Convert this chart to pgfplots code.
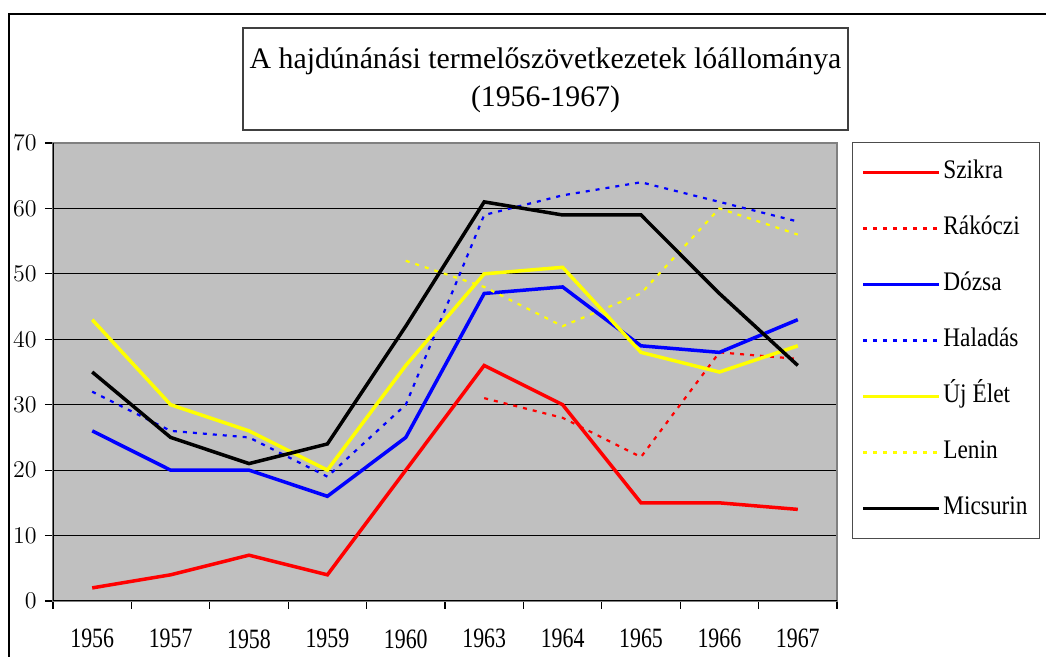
\documentclass[border=0pt]{standalone}
\usepackage{fontspec}
\setmainfont{Liberation Serif}
\newfontfamily\narrowfont{Liberation Serif}[FakeStretch=0.78]
\newfontfamily\legendfont{Liberation Serif}[FakeStretch=0.87]
\usepackage{pgfplots}
\pgfplotsset{compat=1.18}
\definecolor{plotgray}{RGB}{192,192,192}
\definecolor{framegray}{RGB}{128,128,128}
\definecolor{xred}{RGB}{255,0,0}
\definecolor{xblue}{RGB}{0,0,255}
\definecolor{xyellow}{RGB}{255,255,0}
\begin{document}
\begin{tikzpicture}
\useasboundingbox (0,0) rectangle (523pt,328.5pt);
\begin{scope}
\clip (0,0) rectangle (523pt,328.5pt);
\draw[line width=0.8pt] (4.5pt,-5pt) -- (4.5pt,321.5pt) -- (530pt,321.5pt);
\end{scope}
\draw[line width=0.6pt, black!75] (121.5pt,263.5pt) rectangle (424pt,314.5pt);
\node[align=center, inner sep=0pt, font=\fontsize{14.9}{19}\selectfont] at (272.75pt,288.5pt) {A hajdúnánási termelőszövetkezetek lóállománya\\(1956-1967)};
\begin{axis}[
  at={(26.5pt,28pt)}, anchor=south west,
  width=392pt, height=229pt, scale only axis,
  xmin=-0.5, xmax=9.5, ymin=0, ymax=70,
  axis background/.style={fill=plotgray},
  axis line style={draw=framegray, line width=0.6pt},
  ytick={0,10,...,70},
  ymajorgrids, grid style={black, line width=0.5pt},
  xtick={-0.5,0.5,...,9.5}, xticklabels={},
  extra x ticks={0,1,2,3,4,5,6,7,8,9},
  extra x tick labels={1956,1957,1958,1959,1960,1963,1964,1965,1966,1967},
  extra x tick style={major tick length=0pt, grid=none},
  tick align=outside, major tick length=4pt,
  tick style={black, line width=0.6pt},
  xtick pos=bottom, ytick pos=left,
  xticklabel style={anchor=north, inner sep=0pt, yshift=-14pt, font=\narrowfont\fontsize{14}{14}\selectfont},
  yticklabel style={anchor=east, inner sep=0pt, xshift=-4pt, font=\fontsize{11.5}{12}\selectfont},
  legend cell align=left,
  legend style={at={(1,1)}, anchor=north west, xshift=7.35pt, yshift=0.6pt,
    draw=black!70, line width=0.6pt, fill=white,
    font=\legendfont\fontsize{13.4}{14}\selectfont,
    inner xsep=4.5pt, inner ysep=9pt, row sep=16pt,
    nodes={inner xsep=1.5pt, inner ysep=0pt, text height=9pt, text depth=3pt}},
  legend image code/.code={\draw[#1] (0pt,0pt) -- (37.8pt,0pt);},
  solid series/.style={line width=1.75pt, line join=miter},
  dot series/.style={line width=1.1pt, dash pattern=on 2pt off 3pt},
]
\addplot[solid series, xred] coordinates {(0,2) (1,4) (2,7) (3,4) (4,20) (5,36) (6,30) (7,15) (8,15) (9,14)};
\addlegendentry{Szikra}
\addplot[dot series, xred] coordinates {(5,31) (6,28) (7,22) (8,38) (9,37)};
\addlegendentry{Rákóczi}
\addplot[solid series, xblue] coordinates {(0,26) (1,20) (2,20) (3,16) (4,25) (5,47) (6,48) (7,39) (8,38) (9,43)};
\addlegendentry{Dózsa}
\addplot[dot series, xblue] coordinates {(0,32) (1,26) (2,25) (3,19) (4,30) (5,59) (6,62) (7,64) (8,61) (9,58)};
\addlegendentry{Haladás}
\addplot[solid series, xyellow] coordinates {(0,43) (1,30) (2,26) (3,20) (4,36) (5,50) (6,51) (7,38) (8,35) (9,39)};
\addlegendentry{Új Élet}
\addplot[dot series, xyellow] coordinates {(4,52) (5,48) (6,42) (7,47) (8,60) (9,56)};
\addlegendentry{Lenin}
\addplot[solid series, black] coordinates {(0,35) (1,25) (2,21) (3,24) (4,42) (5,61) (6,59) (7,59) (8,47) (9,36)};
\addlegendentry{Micsurin}
\draw[black, line width=0.8pt] (axis cs:-0.5,70) -- (axis cs:-0.5,0) -- (axis cs:9.5,0);
\end{axis}
\end{tikzpicture}
\end{document}
